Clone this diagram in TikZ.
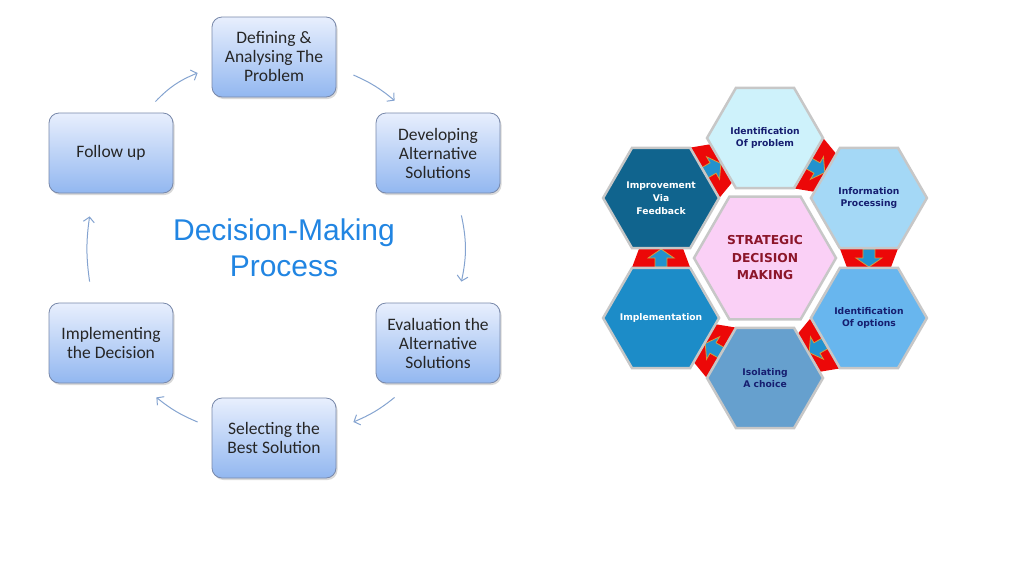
\documentclass[tikz,border=0pt]{standalone}
\usepackage{fontspec}
\usepackage{tikz}
\usetikzlibrary{shapes.geometric, shadows, backgrounds, calc, arrows.meta}
\newfontfamily\boxfont{Carlito}
\newfontfamily\titlefont{Liberation Sans}
\newfontfamily\hexfont{DejaVu Sans}
\definecolor{boxtop}{RGB}{232, 239, 253}
\definecolor{boxbottom}{RGB}{146, 183, 240}
\definecolor{boxline}{RGB}{120, 136, 170}
\definecolor{flowblue}{RGB}{132, 163, 208}
\definecolor{titleblue}{RGB}{33, 133, 226}
\definecolor{navy}{RGB}{22, 30, 112}
\definecolor{wine}{RGB}{140, 22, 42}
\definecolor{problemfill}{RGB}{206, 242, 251}
\definecolor{infofill}{RGB}{164, 216, 246}
\definecolor{optionfill}{RGB}{104, 182, 238}
\definecolor{choicefill}{RGB}{102, 160, 206}
\definecolor{implfill}{RGB}{28, 140, 200}
\definecolor{feedfill}{RGB}{16, 100, 142}
\definecolor{corefill}{RGB}{250, 208, 246}
\definecolor{linkred}{RGB}{236, 8, 8}
\definecolor{linkblue}{RGB}{34, 146, 206}
\definecolor{linkgold}{RGB}{214, 156, 58}

\begin{document}
\begin{tikzpicture}[x=1pt, y=1pt,
  stage/.style={rounded corners=10, draw=boxline, line width=0.8,
    top color=boxtop, bottom color=boxbottom,
    minimum width=124, minimum height=80, align=center,
    font=\boxfont\fontsize{17.5}{19}\selectfont, text=black!85,
    drop shadow={shadow xshift=1.5pt, shadow yshift=-2pt, opacity=0.3}},
  flow/.style={flowblue, line width=1, -{Straight Barb[length=5pt, width=11pt]}},
  hexcell/.style={regular polygon, regular polygon sides=6, minimum size=116,
    inner sep=-12, draw=black!22, line width=2.5, align=center, text=navy,
    font=\hexfont\bfseries\fontsize{9.2}{12.8}\selectfont}]

  \useasboundingbox (0,0) rectangle (1024,-576);

  % decision-making cycle
  \node[stage] (defining) at (274,-57) {Defining \&\\Analysing The\\Problem};
  \node[stage] (developing) at (438,-153) {Developing\\Alternative\\Solutions};
  \node[stage] (evaluation) at (438,-343) {Evaluation the\\Alternative\\Solutions};
  \node[stage] (selecting) at (274,-438) {Selecting the\\Best Solution};
  \node[stage] (implementing) at (111,-343) {Implementing\\the Decision};
  \node[stage] (followup) at (111,-153) {Follow up};
  \node[titleblue, align=center, font=\titlefont\fontsize{30}{36}\selectfont] (title)
    at (284,-248) {Decision-Making\\Process};

  \draw[flow] ($(followup.north east)+(-18,11)$) to[bend left=12] ($(defining.west)+(-14,-16)$);
  \draw[flow] ($(defining.east)+(17,-18)$) to[bend left=8] ($(developing.north west)+(19,12)$);
  \draw[flow] ($(developing.south east)+(-39,-22)$) to[bend left=12] ($(evaluation.north east)+(-39,21)$);
  \draw[flow] ($(evaluation.south west)+(19,-14)$) to[bend left=8] ($(selecting.east)+(17,16)$);
  \draw[flow] ($(selecting.west)+(-14,16)$) to[bend left=8] ($(implementing.south east)+(-17,-14)$);
  \draw[flow] ($(implementing.north west)+(41,21)$) to[bend left=8] ($(followup.south west)+(41,-23)$);

  % strategic hexagon wheel
  \node[hexcell, minimum size=142, fill=corefill, text=wine,
    font=\hexfont\bfseries\fontsize{12.3}{17.5}\selectfont] (core) at (765,-258) {STRATEGIC\\DECISION\\MAKING};
  \node[hexcell, fill=problemfill] (problem) at ($(core)+(90:120)$) {Identification\\Of problem};
  \node[hexcell, fill=infofill] (info) at ($(core)+(30:120)$) {Information\\Processing};
  \node[hexcell, fill=optionfill] (options) at ($(core)+(-30:120)$) {Identification\\Of options};
  \node[hexcell, fill=choicefill] (choice) at ($(core)+(-90:120)$) {Isolating\\A choice};
  \node[hexcell, fill=implfill, text=white] (impl) at ($(core)+(210:120)$) {Implementation};
  \node[hexcell, fill=feedfill, text=white] (feedback) at ($(core)+(150:120)$) {Improvement\\Via\\Feedback};

  \begin{scope}[on background layer]
    \foreach \src/\dst/\ang in {feedback/problem/30, problem/info/-30, info/options/-90,
                                options/choice/210, choice/impl/150, impl/feedback/90} {
      \begin{scope}[shift={($(\src)!0.5!(\dst)$)}, rotate=\ang]
        \fill[linkred] (-12,30) -- (12,21) -- (12,-21) -- (-12,-30) -- cycle;
        \filldraw[fill=linkblue, draw=linkgold, line width=0.8]
          (-9,6) -- (0,6) -- (0,13) -- (9,0) -- (0,-13) -- (0,-6) -- (-9,-6) -- cycle;
      \end{scope}
    }
  \end{scope}

\end{tikzpicture}
\end{document}
